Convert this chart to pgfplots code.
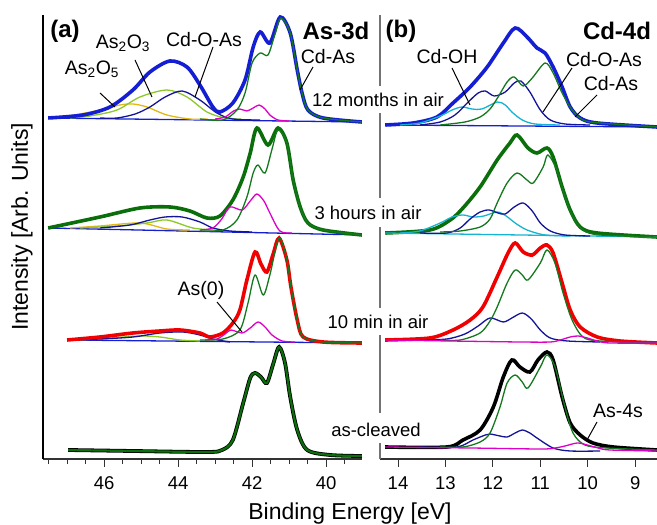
\documentclass[border=0pt]{standalone}
\usepackage{fontspec}
\setmainfont{Liberation Sans}
\usepackage{pgfplots}
\pgfplotsset{compat=1.18}
\newcommand\fs[1]{\fontsize{#1}{#1}\selectfont}

\definecolor{envblue}{RGB}{20,30,210}
\definecolor{cblue}{RGB}{20,20,150}
\definecolor{dgreen}{RGB}{10,110,10}
\definecolor{tgreen}{RGB}{20,120,30}
\definecolor{cmag}{RGB}{220,0,200}
\definecolor{cyg}{RGB}{140,200,40}
\definecolor{cgold}{RGB}{225,185,20}
\definecolor{ccyan}{RGB}{20,180,210}
\definecolor{cred}{RGB}{240,0,0}

\pgfplotsset{
  env/.style={smooth, tension=0.5, line width=3.6pt},
  comp/.style={smooth, tension=0.5, line width=1.3pt},
  base/.style={line width=1.3pt},
  panel/.style={
    scale only axis, anchor=south west, height=444pt,
    ymin=0, ymax=444, x dir=reverse,
    axis x line*=bottom, axis y line*=left, ytick=\empty,
    tick align=outside, major tick length=8pt, minor tick length=5pt,
    tick style={black!80, line width=1pt},
    x axis line style={black!80, line width=1.2pt},
    xticklabel style={font=\fs{18.5}, yshift=-6pt},
    /pgf/number format/assume math mode=true,
  },
}

\begin{document}
\begin{tikzpicture}
\useasboundingbox (0,0) rectangle (657pt,525pt);

% ---------------- (a) As-3d ----------------
\begin{axis}[panel, at={(43pt,66pt)}, width=319pt,
  xmin=39.03, xmax=47.65,
  xtick={40,42,44,46}, minor xtick={39,39.5,...,47.5},
  y axis line style={black, line width=1.2pt}]
% 12 months
\addplot[base, envblue] coordinates {(47.51,341) (39.03,337)};
\addplot[comp, cgold] coordinates {(47.33,341) (46.8,344) (46.11,349) (45.57,354) (45.22,355) (44.84,352) (44.3,344) (43.68,340) (43.2,340)};
\addplot[comp, cyg] coordinates {(46.92,341) (46.38,343) (45.65,349) (45.03,362) (44.3,369) (43.76,362) (43.22,347) (42.73,341) (42.3,340)};
\addplot[comp, cblue] coordinates {(46.11,341) (45.65,341) (45.16,345) (44.76,352) (44.35,362) (43.89,368) (43.41,359) (42.95,346) (42.52,340) (41.78,339)};
\addplot[env, envblue] coordinates {(47.51,341) (46.57,344) (45.84,352) (45.22,369) (44.76,387) (44.22,398) (43.76,392) (43.41,374) (43.06,352) (42.87,347) (42.52,356) (42.19,379) (41.97,412) (41.78,427) (41.52,416) (41.24,442) (40.97,426) (40.78,389) (40.65,366) (40.49,349) (40.08,341) (39.03,337)};
\addplot[comp, cmag] coordinates {(43.0,340) (42.73,342) (42.5,348) (42.33,350) (42.14,348) (41.97,351) (41.81,354) (41.65,350) (41.52,344) (41.3,339) (41.0,338)};
\addplot[comp, tgreen] coordinates {(43.41,340) (42.79,339) (42.41,349) (42.19,366) (42.0,396) (41.78,406) (41.57,404) (41.38,425) (41.22,441) (40.97,426) (40.78,389) (40.65,366) (40.49,349) (40.08,341) (39.03,337)};
% 3 hours
\addplot[base, envblue] coordinates {(47.51,231) (39.03,224)};
\addplot[comp, cgold] coordinates {(46.92,231) (46.11,233) (45.03,236) (44.3,230) (43.68,229)};
\addplot[comp, cyg] coordinates {(46.65,231) (45.65,233) (44.84,236) (44.3,239) (43.6,231) (43.0,229)};
\addplot[comp, cblue] coordinates {(46.11,231) (45.3,234) (44.76,239) (44.35,242) (43.89,242) (43.41,237) (43.06,231) (42.6,228) (42.0,227)};
\addplot[env, dgreen] coordinates {(47.51,231) (46.11,242) (45.03,251) (44.22,252) (43.68,248) (43.22,241) (42.87,243) (42.52,259) (42.24,282) (42.05,306) (41.87,331) (41.57,314) (41.3,331) (41.06,316) (40.89,279) (40.7,252) (40.49,236) (40.08,229) (39.03,224)};
\addplot[comp, cmag] coordinates {(43.41,229) (43.06,231) (42.82,240) (42.6,252) (42.27,249) (42.05,258) (41.87,265) (41.68,258) (41.52,246) (41.25,228) (40.92,226)};
\addplot[comp, tgreen] coordinates {(43.41,228) (42.79,229) (42.41,239) (42.14,262) (41.97,286) (41.84,294) (41.65,286) (41.46,310) (41.3,329) (41.06,316) (40.89,279) (40.7,252) (40.49,236) (40.08,229) (39.03,224)};
% 10 min
\addplot[base, envblue] coordinates {(47.0,119) (39.03,116)};
\addplot[comp, cyg] coordinates {(46.65,119) (45.84,121) (45.03,123) (44.49,122) (43.95,119) (43.41,118)};
\addplot[comp, cblue] coordinates {(47.0,119) (46.11,120) (45.22,122) (44.49,126) (43.87,127) (43.41,124) (43.06,120) (42.6,117)};
\addplot[env, cred] coordinates {(47.0,119) (46.11,122) (45.22,126) (44.49,128) (43.95,129) (43.41,126) (43.14,122) (42.79,126) (42.52,136) (42.33,149) (42.14,179) (41.92,207) (41.76,195) (41.6,187) (41.43,205) (41.27,221) (41.06,199) (40.95,172) (40.78,139) (40.62,122) (40.08,117) (39.03,116)};
\addplot[comp, cmag] coordinates {(43.27,119) (42.95,120) (42.73,125) (42.57,129) (42.27,126) (42.05,131) (41.84,137) (41.65,132) (41.46,124) (41.19,118) (40.84,117)};
\addplot[comp, tgreen] coordinates {(43.41,119) (42.79,120) (42.33,129) (42.11,156) (41.92,184) (41.7,164) (41.52,184) (41.27,221) (41.06,199) (40.95,172) (40.78,139) (40.62,122) (40.08,117) (39.03,116)};
% as-cleaved
\addplot[env, black, line width=3.8pt] coordinates {(46.97,9) (45.22,8) (43.22,7) (42.81,9) (42.52,19) (42.24,56) (42.05,81) (41.92,86) (41.76,82) (41.6,76) (41.43,95) (41.27,112) (41.11,96) (40.97,62) (40.78,29) (40.51,9) (39.89,4) (39.03,3)};
\addplot[env, dgreen, line width=2.2pt] coordinates {(46.97,9) (45.22,8) (43.22,7) (42.81,9) (42.52,19) (42.24,56) (42.05,81) (41.92,86) (41.76,82) (41.6,76) (41.43,95) (41.27,112) (41.11,96) (40.97,62) (40.78,29) (40.51,9) (39.89,4) (39.03,3)};
\end{axis}

% ---------------- (b) Cd-4d ----------------
\begin{axis}[panel, at={(380pt,66pt)}, width=277pt,
  xmin=8.54, xmax=14.38,
  xtick={9,10,11,12,13,14},
  y axis line style={draw=none}]
% 12 months
\addplot[base, envblue] coordinates {(14.27,334) (8.54,332)};
\addplot[env, envblue] coordinates {(14.27,334) (13.68,336) (13.18,342) (12.84,356) (12.48,372) (12.12,392) (11.78,416) (11.53,431) (11.28,422) (11.07,411) (10.9,406) (10.73,392) (10.54,372) (10.37,352) (10.16,341) (9.8,336) (8.54,332)};
\addplot[comp, ccyan] coordinates {(13.96,334) (13.54,336) (13.11,343) (12.86,349) (12.65,352) (12.44,350) (12.23,350) (11.91,357) (11.74,354) (11.6,347) (11.38,339) (11.11,335) (10.58,334)};
\addplot[comp, cblue] coordinates {(13.54,334) (13.11,337) (12.8,344) (12.52,357) (12.31,366) (12.16,368) (11.97,363) (11.74,367) (11.55,376) (11.41,378) (11.22,367) (11.0,349) (10.79,339) (10.48,335) (9.95,334)};
\addplot[comp, tgreen] coordinates {(13.11,334) (12.59,337) (12.27,342) (12.06,350) (11.89,362) (11.7,377) (11.55,382) (11.36,373) (11.17,381) (10.9,396) (10.73,386) (10.54,366) (10.33,349) (10.1,339) (9.74,336) (8.54,332)};
% 3 hours
\addplot[env, dgreen] coordinates {(14.27,226) (13.33,229) (12.9,239) (12.63,251) (12.27,272) (11.91,299) (11.64,316) (11.49,324) (11.26,311) (11.07,306) (10.86,311) (10.73,302) (10.54,272) (10.37,249) (10.16,232) (9.8,226) (8.54,222)};
\addplot[base, ccyan] coordinates {(14.27,226) (8.54,222)};
\addplot[comp, ccyan] coordinates {(13.96,226) (13.54,228) (13.11,236) (12.86,242) (12.63,244) (12.42,242) (12.19,243) (11.91,247) (11.72,243) (11.53,236) (11.28,229) (10.9,224) (10.37,223)};
\addplot[comp, cblue] coordinates {(13.54,226) (12.97,226) (12.69,231) (12.48,240) (12.27,247) (12.08,249) (11.89,246) (11.74,245) (11.55,252) (11.36,256) (11.17,248) (11.0,236) (10.79,228) (10.48,224) (9.95,223)};
\addplot[comp, tgreen] coordinates {(13.11,227) (12.69,228) (12.27,232) (12.06,240) (11.91,256) (11.7,276) (11.49,286) (11.28,279) (11.15,276) (10.94,292) (10.84,304) (10.65,289) (10.48,262) (10.31,242) (10.1,229) (9.74,224) (8.54,222)};
% 10 min
\addplot[env, cred] coordinates {(14.27,119) (13.33,121) (12.84,129) (12.48,139) (12.21,152) (11.91,182) (11.68,206) (11.53,216) (11.36,207) (11.17,204) (11.0,211) (10.86,214) (10.73,206) (10.54,176) (10.37,149) (10.16,132) (9.8,122) (9.32,118) (8.54,116)};
\addplot[comp, cblue] coordinates {(13.54,119) (12.97,120) (12.59,125) (12.31,133) (12.06,141) (11.78,137) (11.6,141) (11.38,146) (11.19,140) (11.0,129) (10.79,121) (10.43,118) (9.74,117)};
\addplot[comp, tgreen] coordinates {(13.11,119) (12.69,119) (12.27,126) (12.06,138) (11.91,152) (11.7,176) (11.53,189) (11.38,184) (11.26,179) (11.0,196) (10.86,209) (10.69,196) (10.52,166) (10.33,139) (10.1,122) (9.74,118) (8.54,116)};
\addplot[comp, cmag] coordinates {(14.27,119) (12.9,118) (11.43,117) (10.79,117) (10.58,119) (10.37,122) (10.2,123) (10.01,121) (9.8,118) (9.53,116) (8.54,116)};
% as-cleaved
\addplot[env, black] coordinates {(14.27,12) (12.97,12) (12.63,19) (12.27,29) (11.99,52) (11.78,82) (11.6,99) (11.43,92) (11.22,87) (11.05,99) (10.86,107) (10.73,99) (10.54,62) (10.37,36) (10.16,24) (9.89,16) (9.46,12) (8.54,9)};
\addplot[comp, cblue] coordinates {(13.54,12) (12.76,12) (12.42,19) (12.16,24) (12.06,25) (11.85,23) (11.7,22) (11.53,26) (11.38,29) (11.22,26) (11.07,21) (10.73,11) (10.37,8) (9.74,8)};
\addplot[comp, tgreen] coordinates {(13.11,12) (12.63,12) (12.27,17) (12.06,26) (11.85,52) (11.7,76) (11.53,84) (11.38,77) (11.26,71) (11.0,92) (10.86,104) (10.69,92) (10.48,52) (10.31,26) (10.06,14) (9.59,11) (8.54,9)};
\addplot[comp, cmag] coordinates {(14.27,12) (12.48,11) (11.0,10) (10.69,11) (10.48,13) (10.22,16) (10.01,14) (9.78,11) (9.53,9) (8.54,8)};
\end{axis}

% divider of panel (b), broken where the labels sit
\foreach \a/\b in {439/510, 327/412, 217/298, 112/190, 66/82}
  \draw[black!55, line width=1.2pt] (380pt,\a pt) -- (380pt,\b pt);

% leader lines
\begin{scope}[line width=1pt]
\draw (100pt,432pt) -- (115pt,418pt);
\draw (135pt,465pt) -- (152pt,428pt);
\draw (213pt,478pt) -- (195pt,428pt);
\draw (313pt,458pt) -- (300pt,435pt);
\draw (217pt,223pt) -- (242pt,193pt);
\draw (452pt,457pt) -- (470pt,420pt);
\draw (572pt,457pt) -- (543pt,413pt);
\draw (597pt,430pt) -- (575pt,408pt);
\draw (597pt,103pt) -- (587pt,85pt);
\end{scope}

% labels
\begin{scope}[inner sep=0pt]
\node[font=\fs{24}\bfseries] at (65pt,494pt) {(a)};
\node[font=\fs{24}\bfseries] at (336pt,494pt) {As-3d};
\node[font=\fs{24}\bfseries] at (401pt,494pt) {(b)};
\node[font=\fs{24}\bfseries] at (617pt,494pt) {Cd-4d};
\node[font=\fs{19.5}] at (92pt,456pt) {As\textsubscript{2}O\textsubscript{5}};
\node[font=\fs{19.5}] at (123pt,482pt) {As\textsubscript{2}O\textsubscript{3}};
\node[font=\fs{19.5}] at (204pt,485pt) {Cd-O-As};
\node[font=\fs{19.5}] at (328pt,468pt) {Cd-As};
\node[font=\fs{19.5}] at (201pt,235pt) {As(0)};
\node[font=\fs{19.5}] at (447pt,468pt) {Cd-OH};
\node[font=\fs{19.5}] at (604pt,465pt) {Cd-O-As};
\node[font=\fs{19.5}] at (611pt,441pt) {Cd-As};
\node[font=\fs{19.5}] at (618pt,114pt) {As-4s};
\node[font=\fs{18.5}] at (378pt,425pt) {12 months in air};
\node[font=\fs{18.5}] at (368pt,312pt) {3 hours in air};
\node[font=\fs{18.5}] at (378pt,203pt) {10 min in air};
\node[font=\fs{18.5}] at (376pt,95pt) {as-cleaved};
\node[font=\fs{23}, anchor=base] at (350pt,5pt) {Binding Energy [eV]};
\node[font=\fs{23}, rotate=90] at (22pt,298pt) {Intensity [Arb. Units]};
\end{scope}
\end{tikzpicture}
\end{document}
